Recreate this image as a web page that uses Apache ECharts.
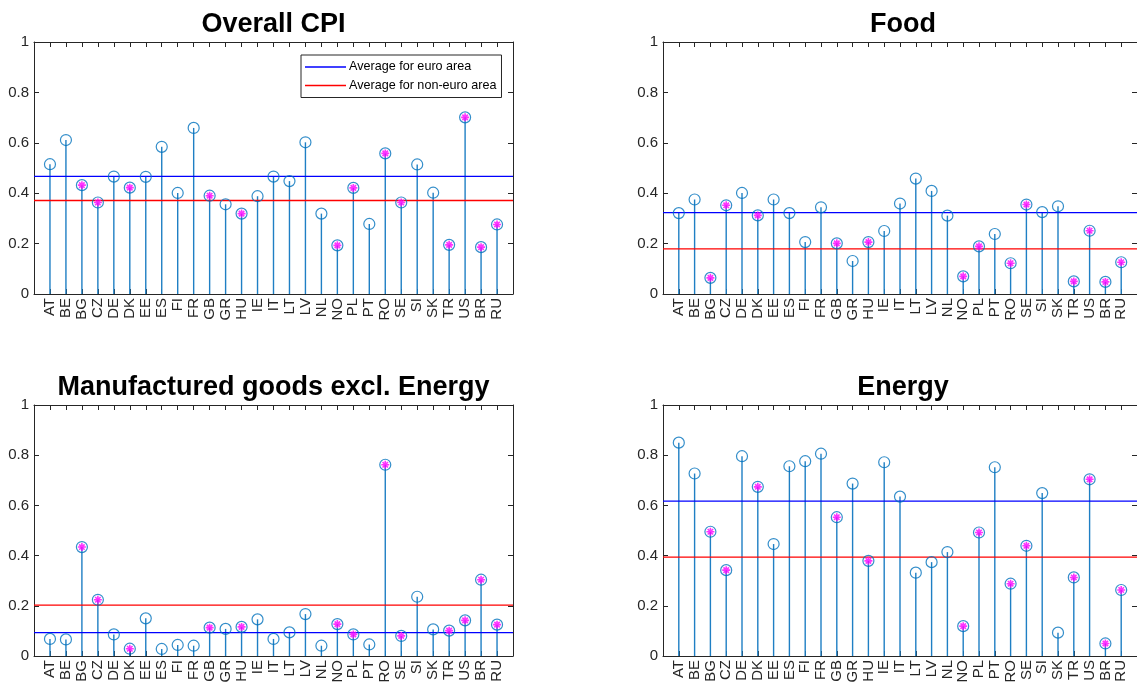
<!DOCTYPE html>
<html>
<head>
<meta charset="utf-8">
<script src="https://cdn.jsdelivr.net/npm/echarts@6/dist/echarts.min.js"></script>
<style>
  html, body { margin: 0; padding: 0; background: #fff; }
  #chart { width: 1137px; height: 693px; }
</style>
</head>
<body>
<div id="chart"></div>
<script>
// Country codes along the x axis
const countries = ['AT','BE','BG','CZ','DE','DK','EE','ES','FI','FR','GB','GR','HU','IE','IT',
                   'LT','LV','NL','NO','PL','PT','RO','SE','SI','SK','TR','US','BR','RU'];
// Countries outside the euro area (drawn with an extra asterisk)
const nonEuro = ['BG','CZ','DK','GB','HU','NO','PL','RO','SE','TR','US','BR','RU'];

const panelTitles = ['Overall CPI', 'Food', 'Manufactured goods excl. Energy', 'Energy'];

const overallCPI = [0.515,0.611,0.432,0.363,0.466,0.422,0.465,0.584,0.401,0.659,0.390,0.356,0.319,0.388,0.466,
                    0.448,0.602,0.319,0.193,0.421,0.278,0.558,0.363,0.514,0.402,0.195,0.701,0.186,0.276];
const food = [0.321,0.375,0.064,0.352,0.401,0.312,0.375,0.321,0.206,0.344,0.201,0.131,0.206,0.250,0.359,
              0.458,0.409,0.311,0.070,0.189,0.238,0.122,0.355,0.325,0.348,0.050,0.251,0.048,0.126];
const manufactured = [0.068,0.066,0.434,0.224,0.086,0.029,0.150,0.028,0.044,0.041,0.113,0.108,0.116,0.146,0.068,
                      0.094,0.167,0.041,0.127,0.086,0.046,0.762,0.080,0.236,0.106,0.101,0.142,0.304,0.125];
const energy = [0.850,0.727,0.495,0.342,0.796,0.674,0.446,0.756,0.776,0.806,0.553,0.687,0.379,0.772,0.635,
                0.332,0.374,0.414,0.119,0.492,0.752,0.288,0.439,0.649,0.093,0.313,0.704,0.050,0.263];

// Group averages per panel
const euroAvg = [0.467, 0.323, 0.093, 0.617];
const nonEuroAvg = [0.371, 0.179, 0.203, 0.394];

const yTicks = [0, 0.2, 0.4, 0.6, 0.8, 1];

const panelValues = [overallCPI, food, manufactured, energy];

// Plot-box geometry for the 2x2 layout
const boxes = [
  { left: 34,  top: 42,  width: 479, height: 252 },
  { left: 663, top: 42,  width: 480, height: 252 },
  { left: 34,  top: 405, width: 479, height: 251 },
  { left: 663, top: 405, width: 480, height: 251 }
];

const FONT = "'Liberation Sans', Arial, Helvetica, sans-serif";
const AXIS_COLOR = '#262626';
const STEM_COLOR = '#1f7fc4';
const MARKER_COLOR = '#0072BD';
const ASTERISK = 'path://M5,0L5,10M0,5L10,5M1.6,1.6L8.4,8.4M1.6,8.4L8.4,1.6';

const grid = [], xAxis = [], yAxis = [], title = [], series = [];

boxes.forEach((b, k) => {
  grid.push(Object.assign({ containLabel: false }, b));

  title.push({
    text: panelTitles[k],
    left: b.left + b.width / 2,
    top: b.top - 31,
    padding: 0,
    textAlign: 'center',
    textStyle: { fontFamily: FONT, fontSize: 27, fontWeight: 'bold', color: '#000', lineHeight: 27 }
  });

  const tickStyle = { show: true, inside: true, length: 5, lineStyle: { color: AXIS_COLOR, width: 1 } };
  const lineStyle = { show: true, onZero: false, lineStyle: { color: AXIS_COLOR, width: 1 } };

  xAxis.push({
    gridIndex: k, type: 'value', position: 'bottom', min: 0, max: 30, interval: 1,
    axisLine: lineStyle, axisTick: tickStyle, splitLine: { show: false },
    axisLabel: {
      rotate: 90, margin: 4, fontFamily: FONT, fontSize: 15, color: AXIS_COLOR,
      formatter: v => countries[v - 1] || ''
    }
  });
  xAxis.push({
    gridIndex: k, type: 'value', position: 'top', min: 0, max: 30, interval: 1,
    axisLine: lineStyle, axisTick: tickStyle, splitLine: { show: false },
    axisLabel: { show: false }
  });
  yAxis.push({
    gridIndex: k, type: 'value', position: 'left', min: yTicks[0], max: yTicks[yTicks.length - 1], interval: 0.2,
    axisLine: lineStyle, axisTick: tickStyle, splitLine: { show: false },
    axisLabel: { margin: 5, fontFamily: FONT, fontSize: 15, color: AXIS_COLOR }
  });
  yAxis.push({
    gridIndex: k, type: 'value', position: 'right', min: yTicks[0], max: yTicks[yTicks.length - 1], interval: 0.2,
    axisLine: lineStyle, axisTick: tickStyle, splitLine: { show: false },
    axisLabel: { show: false }
  });

  const vals = panelValues[k];
  const pts = countries.map((c, i) => [i + 1, vals[i]]);
  const ax = { xAxisIndex: 2 * k, yAxisIndex: 2 * k };

  // stems
  series.push(Object.assign({
    type: 'bar', data: pts, barWidth: 1.4, silent: true,
    itemStyle: { color: STEM_COLOR }, z: 2
  }, ax));

  // average lines
  series.push(Object.assign({
    name: 'Average for euro area', type: 'line', data: [[0, euroAvg[k]], [30, euroAvg[k]]],
    symbol: 'none', silent: true, lineStyle: { color: '#0000FF', width: 1.3 }, itemStyle: { color: '#0000FF' }, z: 3
  }, ax));
  series.push(Object.assign({
    name: 'Average for non-euro area', type: 'line', data: [[0, nonEuroAvg[k]], [30, nonEuroAvg[k]]],
    symbol: 'none', silent: true, lineStyle: { color: '#FF0000', width: 1.3 }, itemStyle: { color: '#FF0000' }, z: 3
  }, ax));

  // open circle markers
  series.push(Object.assign({
    type: 'scatter', data: pts, symbol: 'circle', symbolSize: 11, silent: true,
    itemStyle: { color: 'rgba(0,0,0,0)', borderColor: MARKER_COLOR, borderWidth: 1.2 }, z: 4
  }, ax));

  // asterisks for non-euro countries
  series.push(Object.assign({
    type: 'scatter', silent: true,
    data: pts.filter((p, i) => nonEuro.includes(countries[i])),
    symbol: ASTERISK, symbolSize: 8,
    itemStyle: { color: 'rgba(0,0,0,0)', borderColor: '#FF00FF', borderWidth: 1.6 }, z: 5
  }, ax));
});

const chart = echarts.init(document.getElementById('chart'), null, { renderer: 'canvas' });
chart.setOption({
  animation: false,
  backgroundColor: '#fff',
  title: title,
  legend: {
    data: [
      { name: 'Average for euro area', icon: 'rect', itemStyle: { color: '#0000FF' } },
      { name: 'Average for non-euro area', icon: 'rect', itemStyle: { color: '#FF0000' } }
    ],
    orient: 'vertical', left: 301, top: 55,
    padding: [5, 5, 5, 4],
    itemWidth: 41, itemHeight: 1.5, itemGap: 4.5,
    backgroundColor: '#fff', borderColor: AXIS_COLOR, borderWidth: 1,
    selectedMode: false,
    textStyle: { fontFamily: FONT, fontSize: 12.6, color: '#000', lineHeight: 14, padding: [0, 0, 0, -2] }
  },
  grid: grid,
  xAxis: xAxis,
  yAxis: yAxis,
  series: series
});
</script>
</body>
</html>
